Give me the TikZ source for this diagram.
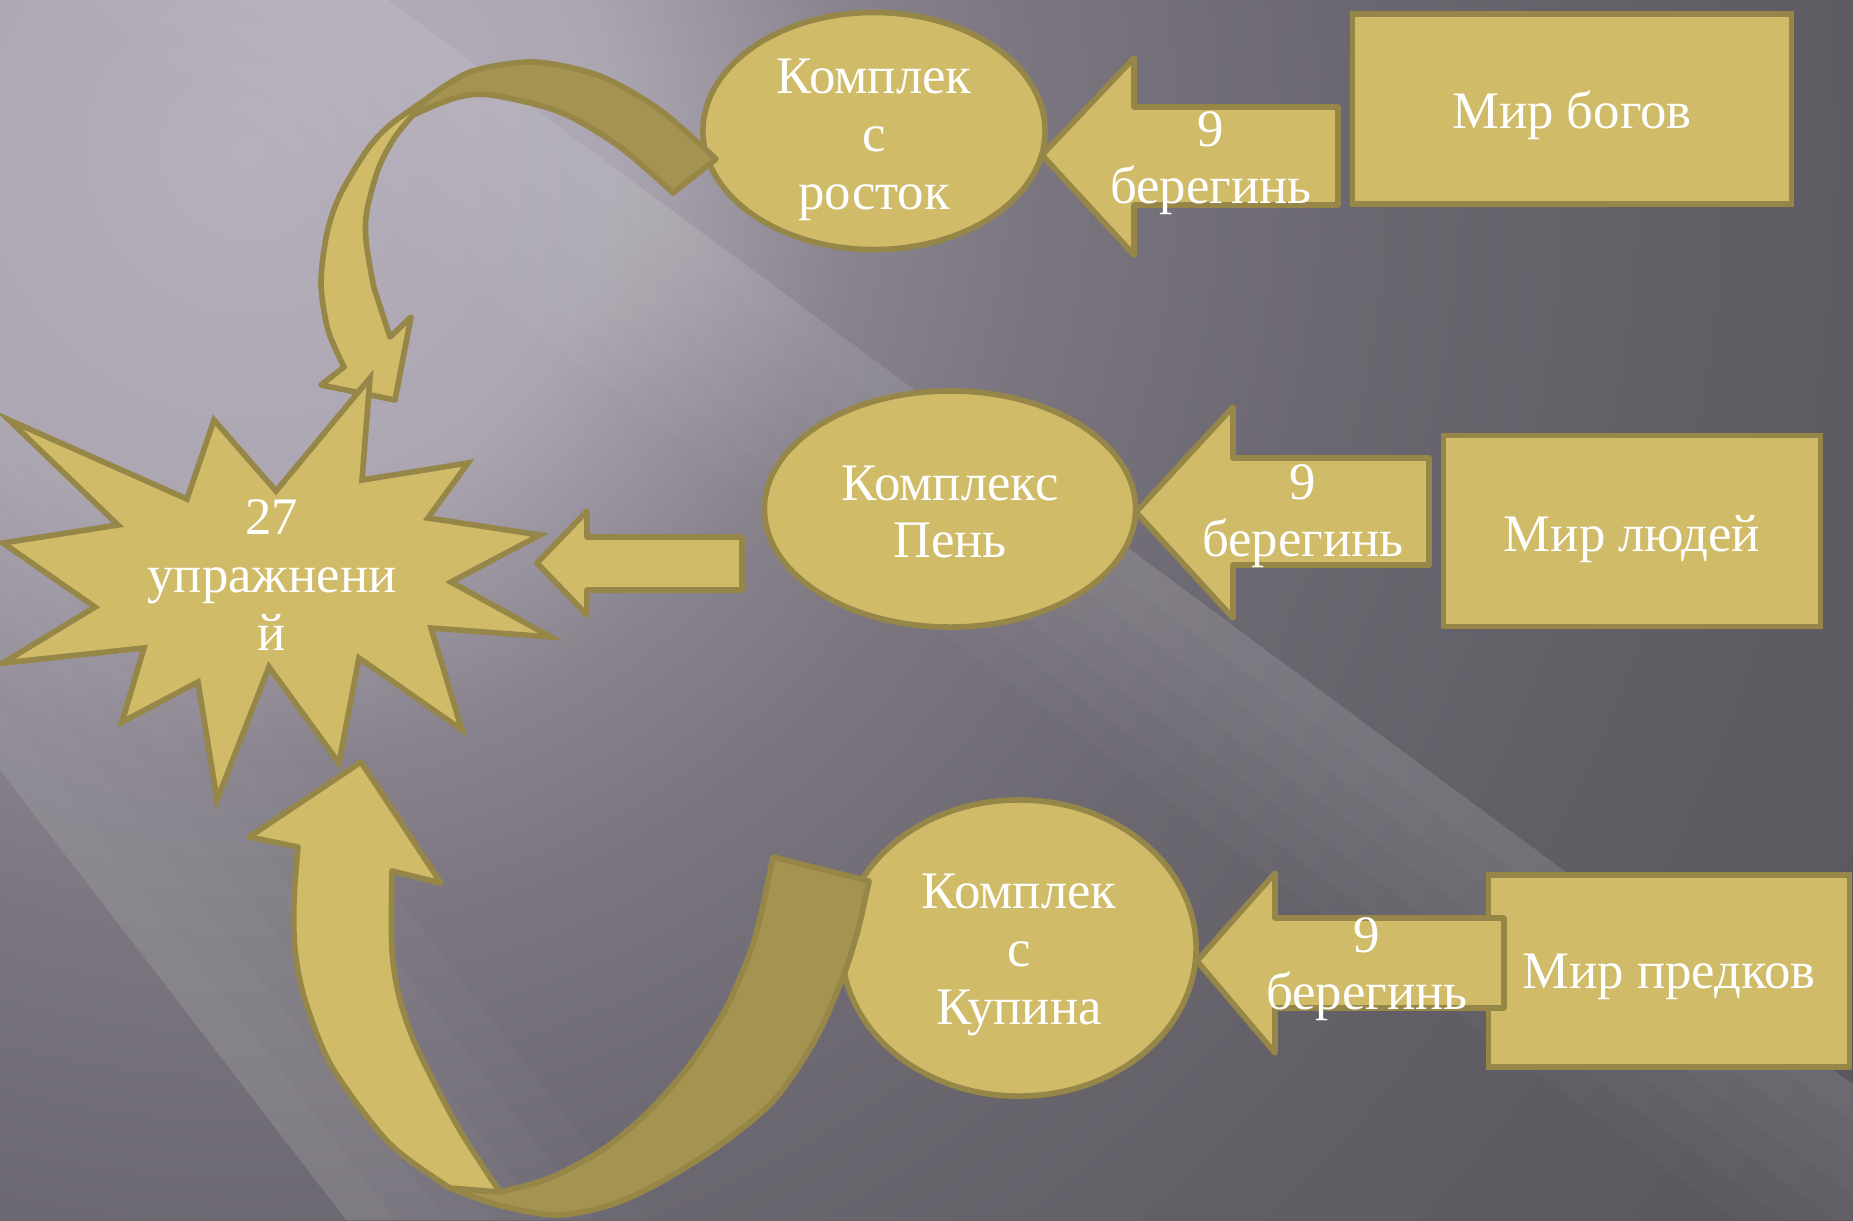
\documentclass[tikz,border=0pt]{standalone}
\usepackage{fontspec}
\setmainfont{Liberation Serif}
\usetikzlibrary{shapes.geometric}

\definecolor{gold}{RGB}{207,187,104}
\definecolor{golddk}{RGB}{165,147,82}
\definecolor{goldln}{RGB}{150,135,72}
\definecolor{bgd}{RGB}{88,84,92}
\pgfdeclareradialshading{bgshade}{\pgfpoint{0bp}{0bp}}{rgb(0bp)=(0.714,0.69,0.737); rgb(4.5bp)=(0.675,0.651,0.698);
	rgb(7.6bp)=(0.533,0.514,0.553); rgb(9.9bp)=(0.478,0.459,0.498); rgb(13.5bp)=(0.424,0.408,0.443);
	rgb(18bp)=(0.384,0.369,0.4); rgb(25bp)=(0.345,0.329,0.361); rgb(50bp)=(0.345,0.329,0.361)}

\begin{document}
\begin{tikzpicture}[x=0.01cm,y=-0.01cm,
	every node/.style={text=white,align=center,font=\fontsize{15}{16.4}\selectfont},
	ell/.style={ellipse,draw=goldln,fill=gold,line width=1.6pt,inner sep=0pt},
	box/.style={rectangle,draw=goldln,fill=gold,line width=1.6pt},
	blk/.style={draw=goldln,fill=gold,line width=1.6pt,line join=round},
	bandd/.style={blk,fill=golddk},
	streak/.style={white,opacity=.025}]
	\useasboundingbox (0,0) rectangle (1853,1220);
	%% background
	\begin{scope}
		\clip (0,0) rectangle (1853,1220);
		\fill[bgd] (0,0) rectangle (1853,1220);
		\shade[shading=bgshade] (250,150) circle (20cm);
		\foreach \w in {50,100,...,300} {
			\fill[streak] (388-\w,0) -- (388,0) -- (2036,1220) -- (2036-\w,1220) -- cycle;
			\fill[streak] (-592,0) -- (-592+\w,0) -- (346+\w,1220) -- (346,1220) -- cycle;
		}
	\end{scope}

	%% complexes
	\node[ell,minimum width=3.42cm,minimum height=2.37cm] (c1) at (874,131) {};
	\node[ell,minimum width=3.71cm,minimum height=2.36cm] (c2) at (950,509) {};
	\node[ell,minimum width=3.54cm,minimum height=2.96cm] (c3) at (1019,948) {};
	\node (c1t) at (874,140) {Комплек\\с\\росток};
	\node (c2t) at (950,512) {Комплекс\\Пень};
	\node (c3t) at (1019,955) {Комплек\\с\\Купина};
	%% worlds
	\node[box,minimum width=4.39cm,minimum height=1.9cm] (w1) at (1572,109) {};
	\node[box,minimum width=3.77cm,minimum height=1.91cm] (w2) at (1632,531) {};
	\node[box,minimum width=3.61cm,minimum height=1.92cm] (w3) at (1669,971) {};
	\node (w1t) at (1572,115) {Мир богов};
	\node (w2t) at (1632,539) {Мир людей};
	\node (w3t) at (1669,977) {Мир предков};

	%% block arrows
	\coordinate (t1) at (1042,155);
	\coordinate (t2) at (1136,512);
	\coordinate (t3) at (1197,961);
	\coordinate (t0) at (537,563);
	\draw[blk] (t1) -- ++(92,-97) -- ++(0,49) -- ++(204,0) -- ++(0,98) -- ++(-204,0) -- ++(0,50) -- cycle;
	\draw[blk] (t2) -- ++(97,-105) -- ++(0,51) -- ++(196,0) -- ++(0,107) -- ++(-196,0) -- ++(0,53) -- cycle;
	\draw[blk] (t3) -- ++(78,-88) -- ++(0,45) -- ++(229,0) -- ++(0,90) -- ++(-229,0) -- ++(0,45) -- cycle;
	\draw[blk] (t0) -- ++(50,-52) -- ++(0,26) -- ++(155,0) -- ++(0,53) -- ++(-155,0) -- ++(0,25) -- cycle;
	\node (n1) at (1211,163) {9\\берегинь};
	\node (n2) at (1303,516) {9\\берегинь};
	\node (n3) at (1367,969) {9\\берегинь};

	%% curved arrow from c1
	\draw[bandd] (716,159) -- plot[smooth] coordinates {(716,159) (660,110) (600,76) (534,62) (470,72) (425,100)}
		-- plot[smooth] coordinates {(413,115) (455,98) (491,95) (560,112) (620,147) (673,193)} -- cycle;
	\draw[blk] (425,100) -- plot[smooth] coordinates {(425,100) (390,125) (367,150) (340,195) (327,233) (321,283) (328,330) (344,367)}
		-- (321,385) -- (395,400) -- (411,317) -- (390,337)
		-- plot[smooth] coordinates {(390,337) (378,300) (373,283) (366,240) (367,210) (379,167) (395,137) (413,115)} -- cycle;
	%% curved arrow from c3
	\draw[bandd] (450,1188) -- plot[smooth] coordinates {(450,1188) (498,1205) (556,1215) (610,1205) (659,1183) (720,1145) (774,1100) (815,1040) (843,977) (858,930) (869,881)}
		-- (773,857) -- plot[smooth] coordinates {(773,857) (763,905) (751,950) (725,1010) (688,1067) (645,1115) (602,1150) (550,1178) (500,1192)} -- cycle;
	\draw[blk] (450,1188) -- plot[smooth] coordinates {(450,1188) (389,1143) (332,1067) (305,1000) (295,950) (294,900) (298,847)}
		-- (249,837) -- (361,762) -- (441,883) -- (392,871)
		-- plot[smooth] coordinates {(392,871) (392,950) (400,1000) (418,1050) (458,1127) (500,1192)} -- cycle;

	%% star
	\draw[blk,line join=miter] (9,420) -- (187,499) -- (214,420) -- (276,491) -- (370,378) -- (362,480) -- (468,463) -- (428,518)
		-- (540,535) -- (451,582) -- (551,637) -- (431,628) -- (462,730) -- (359,658) -- (339,763) -- (269,667)
		-- (217,800) -- (198,682) -- (122,722) -- (144,648) -- (3,663) -- (95,607) -- (3,543) -- (118,525) -- cycle;
	\node (s) at (272,575) {27\\упражнени\\й};
\end{tikzpicture}
\end{document}
